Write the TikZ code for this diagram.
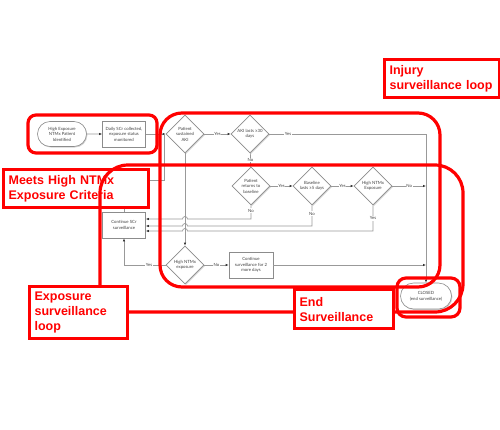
\documentclass[tikz,border=0pt]{standalone}
\usepackage{fontspec}
\setmainfont{Lato}
\newfontfamily\redfont{Liberation Sans}
\usetikzlibrary{shapes.geometric,shapes.misc,arrows.meta,shadows}
\begin{document}
\begin{tikzpicture}[x=1pt,y=-1pt,
 flowtxt/.style={font=\fontsize{4.3}{5.5}\selectfont, text=black!75, align=center},
 box/.style={flowtxt, draw=black!45, fill=white, line width=0.6pt, inner sep=1pt, drop shadow={opacity=0.35,shadow xshift=0.9pt,shadow yshift=-1pt}},
 procbox/.style={box, rectangle, minimum width=43pt, minimum height=26pt},
 stadium/.style={box, rounded rectangle, minimum width=51pt, minimum height=25pt},
 dia/.style={box, diamond, minimum width=38pt, minimum height=38pt, inner sep=0pt},
 conn/.style={draw=black!40, line width=0.7pt},
 arr/.style={conn, -{Latex[length=3pt,width=2.4pt,color=black!80]}},
 lbl/.style={font=\fontsize{4.3}{5}\selectfont, text=black!75, fill=white, inner sep=0.8pt},
 redloop/.style={draw=red, line width=3.2pt},
 redlbl/.style={draw=red, line width=3.2pt, fill=white, text=red, anchor=north west, align=left, inner xsep=5pt, inner ysep=2pt, font=\redfont\bfseries\fontsize{12.5}{15}\selectfont},
]
\useasboundingbox (0,0) rectangle (500,429);
\fill[white] (0,0) rectangle (500,429);

% flowchart nodes
\node[stadium] (hx) at (62,134) {High Exposure\\NTMx Patient\\Identified};
\node[procbox] (daily) at (124,134) {Daily SCr collected,\\exposure status\\monitored};
\node[dia] (aki) at (185,134) {Patient\\sustained\\AKI};
\node[dia] (aki30) at (250,134) {AKI lasts ≥30\\days};
\node[dia] (base) at (251,186) {Patient\\returns to\\baseline};
\node[dia] (base5) at (312,186) {Baseline\\lasts ≥5 days};
\node[dia] (hnx1) at (373,186) {High NTMx\\Exposure};
\node[procbox] (scr) at (124,225) {Continue SCr\\surveillance};
\node[dia] (hnx2) at (185,265) {High NTMx\\exposure};
\node[procbox, minimum width=44pt] (cont2) at (251,265) {Continue\\surveillance for 2\\more days};
\node[stadium, minimum width=53pt, minimum height=26pt] (closed) at (426,296) {CLOSED\\(end surveillance)};

% helper coordinates
\coordinate (jA) at (164,134);
\coordinate (lp) at (164,180);
\coordinate (colR) at (426,134);
\coordinate (colM) at (426,186);
\coordinate (h1) at (251,219);
\coordinate (h2) at (312,226);
\coordinate (h3) at (373,231);
\coordinate (hl) at (124,265);

% connectors
\draw[arr] (hx) -- (daily);
\draw[arr] (daily.east) -- (aki.west);
\draw[conn] (scr.north) -- (scr.north |- lp) -- (lp) -- (jA);
\draw[arr] (aki) -- node[lbl]{Yes} (aki30);
\draw[arr] (aki30.east) -- node[lbl,pos=0.12]{Yes} (colR) -- (closed.north);
\draw[arr] (aki30) -- node[lbl]{No} (base);
\draw[arr] (aki.south) -- (hnx2.north);
\draw[arr] (base) -- node[lbl]{Yes} (base5);
\draw[arr] (base5) -- node[lbl]{Yes} (hnx1);
\draw[arr] (hnx1.east) -- node[lbl]{No} (colM);
\draw[arr] (base.south) -- node[lbl,pos=0.4]{No} (h1) -- (187.5,219) arc[start angle=0,end angle=180,radius=2.5pt] -- (scr.east |- h1);
\draw[arr] (base5.south) -- node[lbl,pos=0.4]{No} (h2) -- (187.5,226) arc[start angle=0,end angle=180,radius=2.5pt] -- (scr.east |- h2);
\draw[arr] (hnx1.south) -- node[lbl]{Yes} (h3) -- (187.5,231) arc[start angle=0,end angle=180,radius=2.5pt] -- (scr.east |- h3);
\draw[arr] (hnx2.west) -- node[lbl,pos=0.4]{Yes} (hl) -- (scr.south);
\draw[arr] (hnx2) -- node[lbl]{No} (cont2);
\draw[arr] (cont2.east) -- (cont2.east -| colR);

% red annotations
\node[redlbl, text width=135pt, minimum height=38pt] (meets) at (2,168) {Meets High NTMx\\Exposure Criteria};
\draw[redloop, rounded corners=22pt] (160,113) rectangle (440,287);
\draw[redloop, rounded corners=28pt] (100,165) rectangle (463,312);
\draw[redloop, rounded corners=8pt] (28,115) rectangle (157,153);
\draw[redloop, rounded corners=9pt] (397,278) rectangle (460,317);
\node[redlbl, text width=105pt, minimum height=38pt] (inj) at (383,58) {Injury\\surveillance loop};
\node[redlbl, text width=88pt, minimum height=52pt] (expl) at (28,285) {Exposure\\surveillance\\loop};
\node[redlbl, text width=89pt, minimum height=39pt] (endl) at (293,288) {End\\Surveillance};
\end{tikzpicture}
\end{document}
